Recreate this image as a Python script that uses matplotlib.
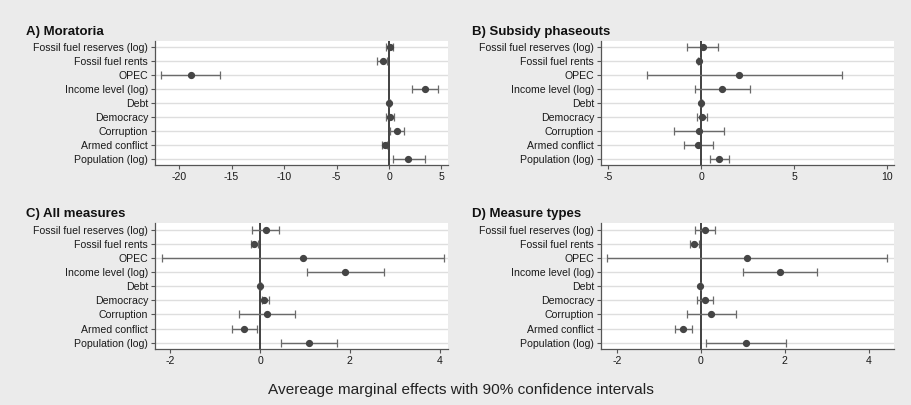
import numpy as np
import matplotlib.pyplot as plt

plt.rcParams['font.family'] = ['Liberation Sans', 'DejaVu Sans']

# переменные (сверху вниз)
labels = ['Fossil fuel reserves (log)', 'Fossil fuel rents', 'OPEC', 'Income level (log)',
          'Debt', 'Democracy', 'Corruption', 'Armed conflict', 'Population (log)']

# A) Moratoria
a_est = [0.05, -0.55, -18.9, 3.4, 0.0, 0.1, 0.76, -0.4, 1.85]
a_lo = [-0.25, -1.1, -21.7, 2.2, -0.05, -0.25, 0.1, -0.7, 0.4]
a_hi = [0.4, -0.2, -16.1, 4.67, 0.05, 0.45, 1.4, -0.2, 3.4]

# B) Subsidy phaseouts
b_est = [0.1, -0.12, 2.05, 1.13, 0.0, 0.05, -0.14, -0.16, 0.95]
b_lo = [-0.75, -0.2, -2.9, -0.32, -0.05, -0.23, -1.48, -0.96, 0.48]
b_hi = [0.9, -0.05, 7.54, 2.6, 0.05, 0.3, 1.2, 0.63, 1.48]

# C) All measures
c_est = [0.13, -0.13, 0.95, 1.9, 0.0, 0.09, 0.16, -0.35, 1.09]
c_lo = [-0.17, -0.21, -2.19, 1.04, -0.02, 0.04, -0.46, -0.62, 0.46]
c_hi = [0.41, -0.04, 4.09, 2.76, 0.02, 0.19, 0.78, -0.07, 1.72]

# D) Measure types
d_est = [0.1, -0.16, 1.11, 1.88, -0.01, 0.11, 0.25, -0.42, 1.08]
d_lo = [-0.14, -0.25, -2.23, 1.01, -0.03, -0.1, -0.34, -0.62, 0.13]
d_hi = [0.34, -0.05, 4.44, 2.77, 0.01, 0.29, 0.83, -0.21, 2.02]

bg = '#ebebeb'
dark = '#454545'

fig = plt.figure(figsize=(9.12, 4.05), dpi=100, facecolor=bg)

panels = [
    ('A) Moratoria', a_est, a_lo, a_hi, [0.170, 0.593, 0.321, 0.306], (-22.3, 5.6), [-20, -15, -10, -5, 0, 5]),
    ('B) Subsidy phaseouts', b_est, b_lo, b_hi, [0.659, 0.593, 0.321, 0.306], (-5.4, 10.35), [-5, 0, 5, 10]),
    ('C) All measures', c_est, c_lo, c_hi, [0.170, 0.138, 0.321, 0.311], (-2.34, 4.18), [-2, 0, 2, 4]),
    ('D) Measure types', d_est, d_lo, d_hi, [0.659, 0.138, 0.321, 0.311], (-2.38, 4.6), [-2, 0, 2, 4]),
]

y = np.arange(1, len(labels) + 1)

for title, est, lo, hi, pos, xlim, xticks in panels:
    ax = fig.add_axes(pos)
    ax.set_facecolor('white')
    est = np.array(est)
    err = np.array([est - np.array(lo), np.array(hi) - est])
    for yy in y:
        ax.axhline(yy, color='#dedede', lw=1.0, zorder=0)
    ax.axvline(0, color='#333333', lw=1.3, zorder=1)
    ax.errorbar(est, y, xerr=err, fmt='o', color=dark, ecolor='#6a6a6a', elinewidth=1.0,
                capsize=3, capthick=0.9, markersize=4.2, zorder=3)
    ax.set_xlim(*xlim)
    ax.set_ylim(9.45, 0.55)
    ax.set_yticks(y)
    ax.set_yticklabels(labels, fontsize=7.6, color='#1a1a1a')
    ax.set_xticks(xticks)
    ax.set_xticklabels([str(t) for t in xticks], fontsize=7.6, color='#1a1a1a')
    for s in ['top', 'right']:
        ax.spines[s].set_visible(False)
    for s in ['left', 'bottom']:
        ax.spines[s].set_color('#555555')
        ax.spines[s].set_linewidth(0.9)
    ax.tick_params(axis='both', length=3, color='#555555', width=0.8, pad=2)
    fig.text(pos[0] - 0.142, pos[1] + pos[3] + 0.022, title, fontsize=9.5, fontweight='bold',
             color='#111111', va='center', ha='left')

fig.text(0.505, 0.037, 'Avereage marginal effects with 90% confidence intervals',
         fontsize=11.1, color='#222222', ha='center', va='center')

plt.savefig('out.png', dpi=100, facecolor=bg)
